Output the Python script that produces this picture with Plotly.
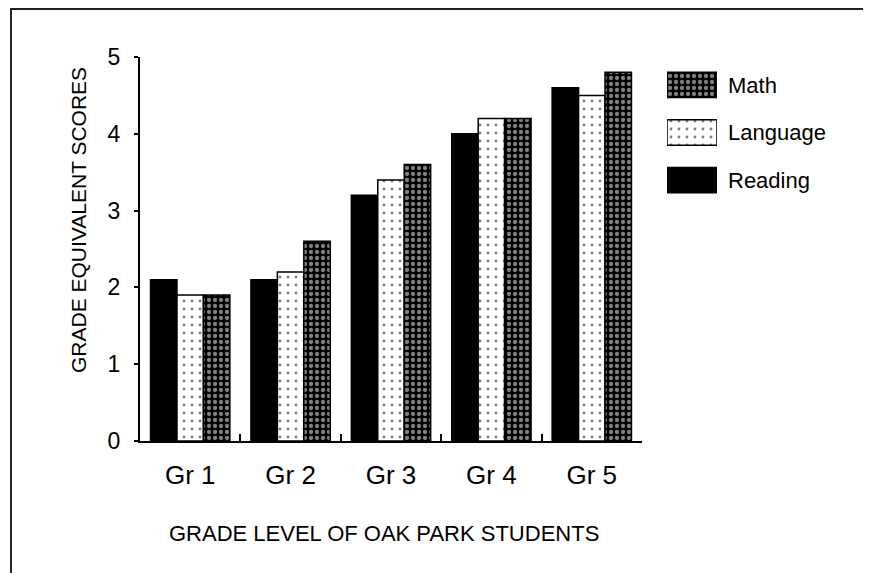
import plotly.graph_objects as go

grades = ["Gr 1", "Gr 2", "Gr 3", "Gr 4", "Gr 5"]
reading = [2.1, 2.1, 3.2, 4.0, 4.6]
language = [1.9, 2.2, 3.4, 4.2, 4.5]
math = [1.9, 2.6, 3.6, 4.2, 4.8]
y_ticks = [0, 1, 2, 3, 4, 5]
legend_names = ["Reading", "Language", "Math"]

FONT = "Liberation Sans, Arial, sans-serif"

styles = {
    "Reading": dict(color="black", pattern=dict(shape="", bgcolor="black", fgcolor="black")),
    "Language": dict(color="white", pattern=dict(shape=".", bgcolor="white", fgcolor="black",
                                                 size=8, solidity=0.1)),
    "Math": dict(color="black", pattern=dict(shape=".", bgcolor="black", fgcolor="white",
                                             size=6, solidity=0.4)),
}

series = {"Reading": reading, "Language": language, "Math": math}

fig = go.Figure()
for name in legend_names:
    st = styles[name]
    fig.add_trace(go.Bar(
        x=grades, y=series[name], name=name,
        marker=dict(color=st["color"], pattern=st["pattern"],
                    line=dict(color="black", width=1.5)),
        showlegend=False, xaxis="x", yaxis="y",
    ))

# legend swatches drawn as a small auxiliary bar chart
for name in legend_names:
    st = styles[name]
    fig.add_trace(go.Bar(
        y=[name], x=[1], orientation="h", width=0.53,
        marker=dict(color=st["color"], pattern=st["pattern"],
                    line=dict(color="black", width=1.5)),
        showlegend=False, xaxis="x2", yaxis="y2", hoverinfo="skip",
    ))

OFF = 8  # page body margin
W, H = 871 - OFF, 573 - OFF
PL, PR, PT, PB = 140, 800, 57, 441  # plot paper box in window pixels
L, T = PL - OFF, PT - OFF
R = W - (PR - OFF)
B = H - (PB - OFF)
pw = PR - PL
ph = PB - PT

def px(x):
    return (x - PL) / pw

def py(y):
    return (PB - y) / ph

fig.update_layout(
    width=W, height=H,
    margin=dict(l=L, r=R, t=T, b=B),
    paper_bgcolor="white", plot_bgcolor="white",
    barmode="group", bargap=0.21, bargroupgap=0.0,
    font=dict(family=FONT, color="black"),
    xaxis=dict(
        domain=[0, px(642)], type="category", categoryarray=grades,
        showline=True, linecolor="black", linewidth=2,
        ticks="inside", ticklen=7, tickwidth=1.5, tickcolor="black",
        tickson="boundaries", showgrid=False, zeroline=False,
        tickfont=dict(size=26, family=FONT), ticklabelstandoff=10,
        range=[-0.5, 4.5],
    ),
    yaxis=dict(
        range=[0, 5], tickvals=y_ticks, showline=True, linecolor="black", linewidth=2,
        ticks="outside", ticklen=4, tickwidth=1.5, tickcolor="black",
        showgrid=False, zeroline=False,
        tickfont=dict(size=23, family=FONT), ticklabelstandoff=9,
    ),
    xaxis2=dict(domain=[px(667), px(717)], anchor="y2", range=[0, 1], visible=False,
                fixedrange=True),
    yaxis2=dict(domain=[py(204), py(61)], anchor="x2", type="category",
                categoryarray=legend_names, side="right", showline=False,
                ticks="", showgrid=False, zeroline=False,
                tickfont=dict(size=22, family=FONT), ticklabelstandoff=10),
    annotations=[
        dict(text="GRADE EQUIVALENT SCORES", xref="paper", yref="paper",
             x=px(78), y=py(220), textangle=-90, showarrow=False,
             xanchor="center", yanchor="middle", font=dict(size=21, family=FONT)),
        dict(text="GRADE LEVEL OF OAK PARK STUDENTS", xref="paper", yref="paper",
             x=px(384), y=py(533), showarrow=False,
             xanchor="center", yanchor="middle", font=dict(size=22, family=FONT)),
    ],
    shapes=[
        dict(type="rect", xref="paper", yref="paper",
             x0=px(11), x1=px(865), y0=py(600), y1=py(9),
             line=dict(color="#222", width=2), fillcolor="rgba(0,0,0,0)", layer="below"),
    ],
)

fig.write_html("out.html")
